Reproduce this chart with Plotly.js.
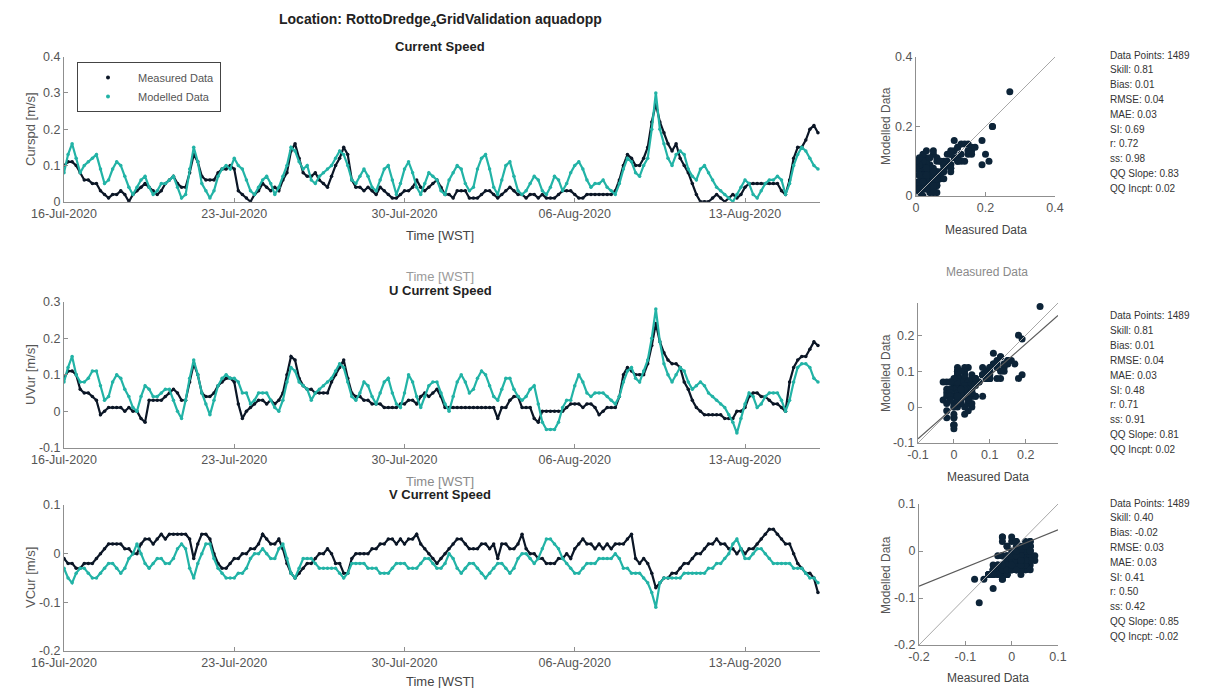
<!DOCTYPE html>
<html>
<head>
<meta charset="utf-8">
<script src="https://cdn.plot.ly/plotly-3.0.1.min.js"></script>
<style>html,body{margin:0;padding:0;background:#fff;}#chart{width:1210px;height:688px;}</style>
</head>
<body>
<div id="chart"></div>
<script>
// ---- DATA (4-hourly samples, starting 16-Jul-2020 00:00) ----
const startDate = '2020-07-16T00:00:00Z';
const sampleHours = 4;

const curspdMeasured = [
0.10,0.11,0.11,0.10,0.08,0.06, 0.06,0.05,0.05,0.03,0.02,0.01, 0.02,0.02,0.03,0.02,0.00,0.02,
0.03,0.04,0.05,0.04,0.03,0.02, 0.03,0.05,0.06,0.07,0.05,0.04, 0.04,0.08,0.13,0.11,0.07,0.06,
0.06,0.06,0.08,0.09,0.09,0.10, 0.09,0.03,0.02,0.01,0.00,0.02, 0.03,0.05,0.04,0.03,0.04,0.03,
0.06,0.08,0.14,0.16,0.12,0.08, 0.07,0.07,0.08,0.06,0.05,0.04, 0.07,0.10,0.12,0.15,0.13,0.06,
0.04,0.04,0.03,0.04,0.03,0.02, 0.04,0.03,0.02,0.01,0.01,0.02, 0.03,0.03,0.04,0.06,0.04,0.03,
0.04,0.05,0.06,0.04,0.02,0.02, 0.01,0.03,0.03,0.03,0.01,0.01, 0.01,0.02,0.03,0.03,0.02,0.01,
0.02,0.03,0.04,0.03,0.02,0.02, 0.01,0.02,0.02,0.01,0.02,0.01, 0.01,0.01,0.02,0.03,0.03,0.03,
0.02,0.01,0.01,0.02,0.02,0.02, 0.02,0.02,0.02,0.02,0.03,0.06, 0.10,0.13,0.12,0.10,0.10,0.12,
0.15,0.22,0.27,0.22,0.19,0.16, 0.14,0.16,0.12,0.10,0.08,0.05, 0.02,0.00,0.00,0.00,0.01,0.02,
0.01,0.00,0.01,0.02,0.01,0.02, 0.04,0.05,0.05,0.05,0.05,0.05, 0.05,0.05,0.05,0.03,0.02,0.06,
0.12,0.15,0.15,0.17,0.20,0.21, 0.19];

const curspdModelled = [
0.08,0.13,0.16,0.12,0.08,0.10, 0.11,0.12,0.13,0.09,0.05,0.06, 0.09,0.11,0.10,0.07,0.04,0.02,
0.04,0.06,0.07,0.04,0.02,0.03, 0.05,0.05,0.06,0.07,0.04,0.01, 0.02,0.09,0.15,0.11,0.05,0.03,
0.01,0.03,0.07,0.09,0.10,0.09, 0.12,0.10,0.09,0.06,0.03,0.02, 0.04,0.06,0.07,0.05,0.02,0.04,
0.07,0.10,0.15,0.14,0.11,0.09, 0.10,0.06,0.05,0.07,0.08,0.09, 0.10,0.12,0.14,0.13,0.10,0.06,
0.05,0.07,0.09,0.07,0.04,0.03, 0.06,0.09,0.10,0.06,0.02,0.05, 0.09,0.11,0.08,0.04,0.02,0.05,
0.08,0.07,0.06,0.03,0.02,0.06, 0.08,0.10,0.09,0.05,0.03,0.04, 0.09,0.12,0.13,0.09,0.04,0.02,
0.06,0.10,0.11,0.07,0.03,0.02, 0.03,0.05,0.07,0.06,0.03,0.02, 0.04,0.07,0.06,0.03,0.05,0.08,
0.10,0.11,0.09,0.06,0.04,0.05, 0.05,0.06,0.04,0.03,0.02,0.05, 0.09,0.12,0.11,0.08,0.07,0.10,
0.12,0.20,0.30,0.20,0.16,0.12, 0.10,0.13,0.14,0.13,0.09,0.07, 0.06,0.09,0.10,0.08,0.06,0.04,
0.03,0.02,0.01,0.00,0.02,0.04, 0.06,0.05,0.02,0.01,0.03,0.05, 0.06,0.06,0.07,0.06,0.02,0.05,
0.10,0.13,0.15,0.14,0.12,0.10, 0.09];

const uMeasured = [
0.09,0.11,0.11,0.10,0.06,0.05, 0.05,0.04,0.03,-0.01,0.00,0.01, 0.01,0.01,0.01,0.00,0.01,0.00,
0.00,-0.02,-0.03,0.03,0.03,0.03, 0.03,0.04,0.05,0.06,0.05,0.03, 0.03,0.08,0.13,0.10,0.05,0.04,
0.04,0.05,0.07,0.08,0.09,0.09, 0.08,0.02,-0.02,0.00,0.01,0.02, 0.03,0.03,0.02,0.03,0.02,0.03,
0.05,0.10,0.15,0.14,0.09,0.07, 0.06,0.06,0.05,0.05,0.05,0.05, 0.08,0.10,0.12,0.14,0.09,0.05,
0.04,0.04,0.03,0.03,0.02,0.02, 0.02,0.01,0.01,0.01,0.01,0.02, 0.02,0.03,0.03,0.02,0.04,0.05,
0.04,0.05,0.06,0.04,0.01,0.01, 0.01,0.01,0.01,0.01,0.01,0.01, 0.01,0.01,0.01,0.01,0.01,-0.02,
0.01,0.01,0.03,0.04,0.04,0.01, 0.01,0.01,-0.02,-0.03,0.00,0.00, 0.00,0.00,0.00,0.00,0.01,0.02,
0.02,0.02,0.01,0.02,0.02,0.01, -0.01,0.00,0.01,0.01,0.01,0.04, 0.10,0.12,0.11,0.10,0.10,0.10,
0.13,0.18,0.24,0.19,0.16,0.14, 0.13,0.13,0.12,0.08,0.06,0.03, 0.01,0.00,-0.01,-0.01,-0.01,-0.01,
-0.01,-0.02,-0.02,-0.02,0.00,0.00, 0.01,0.04,0.05,0.05,0.04,0.04, 0.03,0.02,0.02,0.01,0.00,0.08,
0.12,0.14,0.15,0.15,0.17,0.19, 0.18];

const uModelled = [
0.08,0.12,0.15,0.10,0.08,0.08, 0.09,0.11,0.11,0.07,0.03,0.04, 0.08,0.10,0.09,0.06,0.04,0.01,
0.00,0.04,0.07,0.06,0.04,0.04, 0.05,0.06,0.06,0.03,0.00,-0.02, 0.03,0.09,0.14,0.10,0.05,0.02,
-0.01,0.03,0.07,0.09,0.10,0.09, 0.09,0.08,0.05,0.05,0.02,0.03, 0.05,0.05,0.05,0.03,0.01,0.00,
0.03,0.08,0.12,0.11,0.08,0.07, 0.06,0.03,0.05,0.06,0.07,0.08, 0.09,0.11,0.13,0.12,0.08,0.04,
0.03,0.05,0.08,0.07,0.04,0.02, 0.05,0.08,0.09,0.05,0.02,0.01, 0.05,0.10,0.08,0.04,0.01,0.04,
0.07,0.08,0.08,0.05,0.02,0.00, 0.04,0.08,0.10,0.08,0.05,0.06, 0.09,0.11,0.10,0.07,0.04,0.03,
0.06,0.09,0.09,0.06,0.04,0.03, 0.04,0.06,0.07,0.02,-0.03,-0.05, -0.05,-0.05,-0.03,0.01,0.03,0.03,
0.07,0.10,0.08,0.05,0.04,0.05, 0.05,0.05,0.04,0.03,0.02,0.04, 0.08,0.11,0.12,0.09,0.08,0.11,
0.14,0.20,0.28,0.19,0.13,0.10, 0.08,0.10,0.12,0.11,0.08,0.06, 0.07,0.08,0.07,0.05,0.04,0.03,
0.02,0.01,-0.01,-0.03,-0.06,-0.02, 0.02,0.05,0.04,0.01,0.02,0.04, 0.05,0.05,0.05,0.03,0.00,0.03,
0.08,0.12,0.13,0.13,0.12,0.09, 0.08];

const vMeasured = [
-0.01,-0.02,-0.02,-0.03,-0.03,-0.02, -0.02,-0.02,-0.01,0.00,0.01,0.02, 0.02,0.02,0.02,0.01,0.01,0.00,
0.00,0.02,0.03,0.03,0.02,0.03, 0.04,0.03,0.04,0.04,0.04,0.04, 0.04,0.03,-0.01,0.02,0.04,0.04,
0.03,0.00,-0.02,-0.03,-0.03,-0.02, -0.01,-0.01,0.00,0.00,0.01,0.01, 0.02,0.04,0.03,0.02,0.02,0.03,
0.01,-0.02,-0.04,-0.05,-0.04,-0.03, -0.02,-0.02,-0.01,0.00,0.00,0.01, 0.00,-0.02,-0.02,-0.04,-0.04,-0.01,
0.00,0.00,0.00,0.00,0.01,0.01, 0.02,0.02,0.03,0.03,0.02,0.03, 0.02,0.03,0.03,0.04,0.02,0.01,
0.00,-0.01,-0.02,-0.01,0.00,0.01, 0.02,0.03,0.03,0.02,0.01,0.01, 0.01,0.02,0.02,0.01,0.02,-0.01,
0.02,0.02,0.01,0.01,0.02,0.04, 0.01,0.00,0.00,-0.01,-0.01,-0.02, -0.02,-0.02,-0.01,-0.01,0.00,-0.01,
0.01,0.02,0.03,0.02,0.02,0.01, 0.02,0.01,0.02,0.01,0.02,0.02, 0.02,0.03,0.04,-0.01,-0.02,-0.01,
-0.02,-0.04,-0.07,-0.06,-0.05,-0.05, -0.04,-0.04,-0.03,-0.02,-0.02,-0.01, 0.00,0.00,0.01,0.02,0.02,0.03,
0.02,0.02,0.01,0.01,0.00,0.01, 0.00,0.01,0.01,0.02,0.03,0.04, 0.05,0.05,0.04,0.03,0.02,0.02,
0.00,-0.02,-0.03,-0.04,-0.04,-0.05, -0.08];

const vModelled = [
-0.03,-0.05,-0.06,-0.04,-0.03,-0.03, -0.04,-0.05,-0.05,-0.04,-0.03,-0.02, -0.02,-0.03,-0.04,-0.03,-0.01,0.00,
0.02,0.00,-0.02,-0.03,-0.02,-0.01, -0.01,-0.02,-0.02,-0.01,0.01,0.02, 0.01,-0.03,-0.05,-0.02,0.00,0.02,
0.02,-0.01,-0.03,-0.04,-0.05,-0.05, -0.05,-0.04,-0.04,-0.03,-0.01,0.00, 0.00,0.01,0.00,-0.01,-0.01,0.01,
0.02,-0.01,-0.04,-0.05,-0.03,-0.01, -0.01,-0.01,-0.02,-0.03,-0.03,-0.03, -0.03,-0.03,-0.04,-0.05,-0.04,-0.02,
-0.02,-0.02,-0.02,-0.03,-0.03,-0.03, -0.04,-0.04,-0.04,-0.03,-0.02,-0.02, -0.02,-0.03,-0.03,-0.03,-0.02,-0.01,
-0.01,-0.02,-0.03,-0.03,-0.02,0.00, -0.01,-0.03,-0.04,-0.03,-0.02,-0.02, -0.03,-0.04,-0.05,-0.04,-0.03,-0.02,
-0.02,-0.03,-0.04,-0.03,-0.01,0.00, 0.00,-0.01,-0.02,-0.01,0.01,0.03, 0.03,0.02,0.01,-0.01,-0.02,-0.03,
-0.04,-0.04,-0.03,-0.02,-0.02,-0.02, -0.01,-0.01,-0.01,-0.01,0.00,-0.01, -0.03,-0.03,-0.04,-0.04,-0.04,-0.05,
-0.06,-0.08,-0.11,-0.06,-0.05,-0.05, -0.05,-0.05,-0.05,-0.04,-0.04,-0.04, -0.04,-0.04,-0.04,-0.03,-0.03,-0.02,
-0.02,-0.01,0.00,0.02,0.03,0.01, -0.01,-0.01,0.00,0.01,0.01,0.00, -0.01,-0.02,-0.02,-0.02,-0.02,-0.02,
-0.03,-0.03,-0.03,-0.04,-0.05,-0.05, -0.06];

// axis limits and tick labels
const timeRange = ['2020-07-16 00:00', '2020-08-16 02:00'];
const timeTickDates = ['2020-07-16', '2020-07-23', '2020-07-30', '2020-08-06', '2020-08-13'];
const timeTickLabels = ['16-Jul-2020', '23-Jul-2020', '30-Jul-2020', '06-Aug-2020', '13-Aug-2020'];
const curspdRange = [0, 0.4], uRange = [-0.1, 0.3], vRange = [-0.2, 0.1];
const scatterRanges = [[0, 0.4], [-0.1, 0.29], [-0.2, 0.1]];
const scatterTicks = [[0, 0.2, 0.4], [-0.1, 0, 0.1, 0.2], [-0.2, -0.1, 0, 0.1]];
const fitSlope = [null, 0.88, 0.40];
const fitIntercept = [null, 0.0, 0.005];
const legendNames = ['Measured Data', 'Modelled Data'];

const statsCurspd = ['Data Points: 1489','Skill: 0.81','Bias: 0.01','RMSE: 0.04','MAE: 0.03','SI: 0.69','r: 0.72','ss: 0.98','QQ Slope: 0.83','QQ Incpt: 0.02'];
const statsU = ['Data Points: 1489','Skill: 0.81','Bias: 0.01','RMSE: 0.04','MAE: 0.03','SI: 0.48','r: 0.71','ss: 0.91','QQ Slope: 0.81','QQ Incpt: 0.02'];
const statsV = ['Data Points: 1489','Skill: 0.40','Bias: -0.02','RMSE: 0.03','MAE: 0.03','SI: 0.41','r: 0.50','ss: 0.42','QQ Slope: 0.85','QQ Incpt: -0.02'];

// ---- BUILD ----
const W = 1210, H = 688;
const px = x => x / W;
const py = y => 1 - y / H;
const t0 = Date.parse(startDate);
const times = curspdMeasured.map((_, i) => new Date(t0 + i * sampleHours * 3600000).toISOString().slice(0, 16).replace('T', ' '));

const MEAS = '#0b1626', MOD = '#22b3a6', SCAT = '#0d2438';
const FONT = 'Liberation Sans, Arial, Helvetica, sans-serif';

const traces = [];
function ts(y, color, xa, ya) {
  traces.push({x: times, y: y, type: 'scatter', mode: 'lines+markers', showlegend: false,
    line: {color: color, width: 2.2}, marker: {color: color, size: 3.5}, xaxis: xa, yaxis: ya, hoverinfo: 'skip'});
}
ts(curspdMeasured, MEAS, 'x', 'y');
ts(curspdModelled, MOD, 'x', 'y');
ts(uMeasured, MEAS, 'x2', 'y2');
ts(uModelled, MOD, 'x2', 'y2');
ts(vMeasured, MEAS, 'x3', 'y3');
ts(vModelled, MOD, 'x3', 'y3');
// legend entries (dot markers only, as in the reference legend)
[MEAS, MOD].forEach((c, i) => traces.push({x: [null], y: [null], type: 'scatter', mode: 'markers', name: legendNames[i],
  showlegend: true, marker: {color: c, size: 4}, xaxis: 'x', yaxis: 'y', hoverinfo: 'skip'}));

const pairs = [[curspdMeasured, curspdModelled], [uMeasured, uModelled], [vMeasured, vModelled]];
pairs.forEach((p, k) => {
  const xa = 'x' + (k + 4), ya = 'y' + (k + 4);
  const r = scatterRanges[k];
  traces.push({x: p[0], y: p[1], type: 'scatter', mode: 'markers', showlegend: false,
    marker: {color: SCAT, size: 7}, xaxis: xa, yaxis: ya, hoverinfo: 'skip'});
  traces.push({x: r, y: r, type: 'scatter', mode: 'lines', showlegend: false,
    line: {color: '#a8a8a8', width: 1}, xaxis: xa, yaxis: ya, hoverinfo: 'skip'});
  if (fitSlope[k] !== null) {
    traces.push({x: r, y: r.map(v => fitSlope[k] * v + fitIntercept[k]), type: 'scatter', mode: 'lines', showlegend: false,
      line: {color: '#5a5a5a', width: 1.2}, xaxis: xa, yaxis: ya, hoverinfo: 'skip'});
  }
});

const axBase = {showgrid: false, zeroline: false, showline: true, linecolor: '#8f8f8f', linewidth: 1,
  ticks: 'inside', ticklen: 4, tickcolor: '#8f8f8f', tickfont: {size: 12.5, color: '#555', family: FONT}, fixedrange: true};
const tsX = (anchor) => Object.assign({}, axBase, {domain: [px(64), px(820)], anchor: anchor, type: 'date',
  range: timeRange, tickvals: timeTickDates, ticktext: timeTickLabels});
const yAx = (top, bot, range, anchor, ticks) => Object.assign({}, axBase, {domain: [py(bot), py(top)], anchor: anchor,
  range: range, tickvals: ticks, ticktext: ticks.map(v => String(v))});
const scX = (l, r, k) => Object.assign({}, axBase, {domain: [px(l), px(r)], anchor: 'y' + (k + 4),
  range: scatterRanges[k], tickvals: scatterTicks[k], ticktext: scatterTicks[k].map(String)});

const layout = {
  width: W, height: H, margin: {l: 0, r: 0, t: 0, b: 0}, paper_bgcolor: '#fff', plot_bgcolor: 'rgba(0,0,0,0)',
  font: {family: FONT, color: '#444'},
  showlegend: true,
  legend: {x: px(77), y: py(62), xanchor: 'left', yanchor: 'top', bgcolor: '#fff', bordercolor: '#444', borderwidth: 1,
    font: {size: 11, color: '#555', family: FONT}, itemwidth: 50, tracegroupgap: 0},
  xaxis: tsX('y'),
  yaxis: yAx(56.7, 201.7, curspdRange, 'x', [0, 0.1, 0.2, 0.3, 0.4]),
  xaxis2: tsX('y2'),
  yaxis2: yAx(301.7, 447.7, uRange, 'x2', [-0.1, 0, 0.1, 0.2, 0.3]),
  xaxis3: tsX('y3'),
  yaxis3: yAx(505, 651, vRange, 'x3', [-0.2, -0.1, 0, 0.1]),
  xaxis4: scX(916, 1055, 0),
  yaxis4: yAx(57, 196, scatterRanges[0], 'x4', scatterTicks[0]),
  xaxis5: scX(918, 1058, 1),
  yaxis5: yAx(303, 443, scatterRanges[1], 'x5', scatterTicks[1]),
  xaxis6: scX(919, 1058, 2),
  yaxis6: yAx(504, 645, scatterRanges[2], 'x6', scatterTicks[2]),
  annotations: []
};

function note(text, x, y, size, color, opts) {
  layout.annotations.push(Object.assign({text: text, x: px(x), y: py(y), xref: 'paper', yref: 'paper',
    showarrow: false, font: {size: size, color: color, family: FONT}, xanchor: 'center', yanchor: 'middle'}, opts || {}));
}
note('<b>Location: RottoDredge<sub>4</sub>GridValidation aquadopp</b>', 440, 20, 14, '#222');
note('<b>Current Speed</b>', 440, 46, 13, '#222');
note('Time [WST]', 440, 236, 13, '#444');
note('Time [WST]', 440, 277, 13, '#9a9a9a');
note('<b>U Current Speed</b>', 440, 290, 13, '#222');
note('Time [WST]', 440, 481, 13, '#8a8a8a');
note('<b>V Current Speed</b>', 440, 494, 13, '#222');
note('Time [WST]', 440, 681, 13, '#444');
note('Curspd [m/s]', 30, 129, 13, '#555', {textangle: -90});
note('UVur [m/s]', 30, 375, 13, '#555', {textangle: -90});
note('VCur [m/s]', 30, 578, 13, '#555', {textangle: -90});
note('Modelled Data', 886, 126, 12, '#555', {textangle: -90});
note('Modelled Data', 886, 373, 12, '#555', {textangle: -90});
note('Modelled Data', 886, 575, 12, '#555', {textangle: -90});
note('Measured Data', 986, 230, 12, '#444');
note('Measured Data', 987, 272, 12, '#8a8a8a');
note('Measured Data', 988, 477, 12, '#444');
note('Measured Data', 988, 678, 12, '#444');

[[statsCurspd, 55], [statsU, 316], [statsV, 503]].forEach(([lines, y0]) => {
  lines.forEach((s, i) => note(s, 1108, y0 + i * 14.8, 10, '#333', {xanchor: 'left'}));
});

Plotly.newPlot('chart', traces, layout, {staticPlot: true, displayModeBar: false});
</script>
</body>
</html>
